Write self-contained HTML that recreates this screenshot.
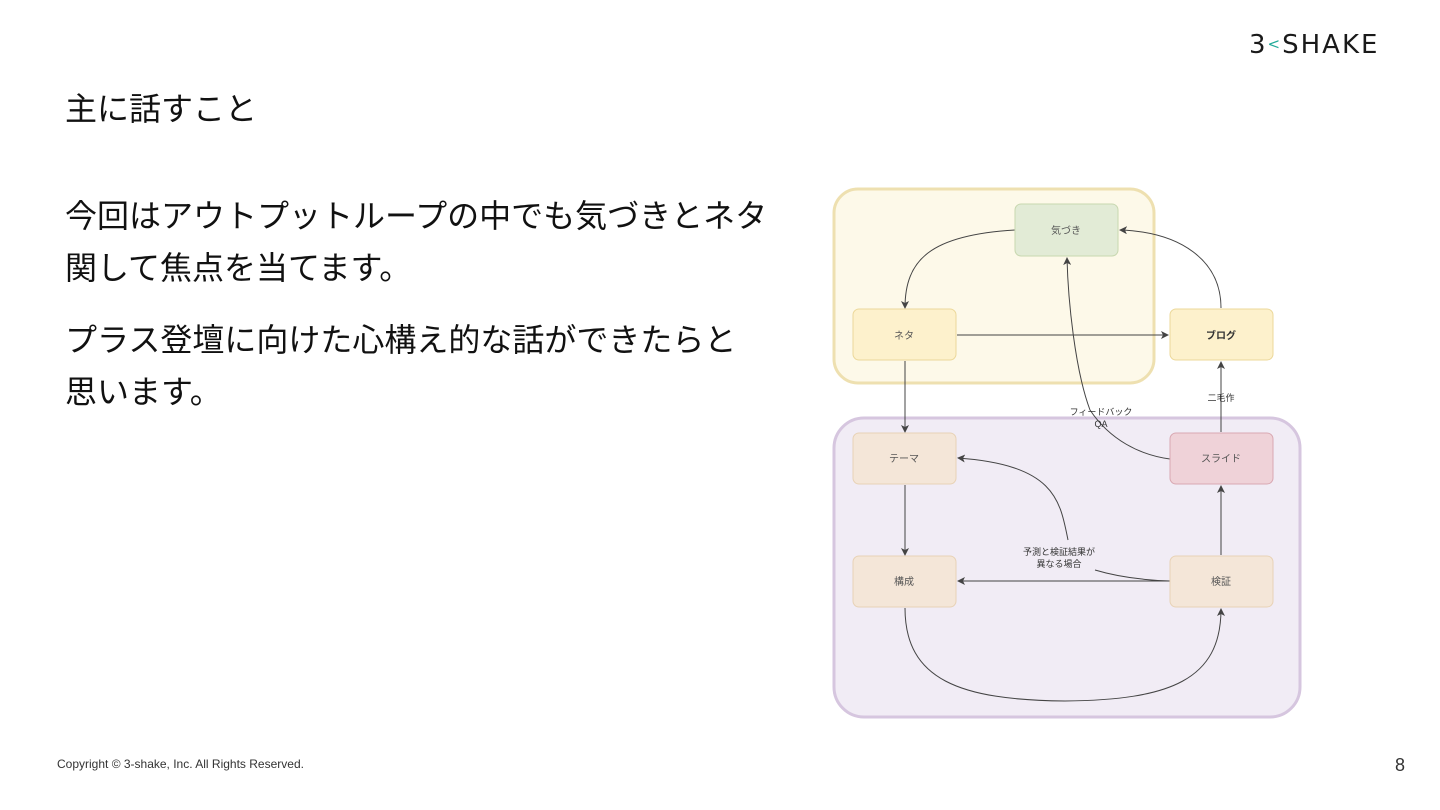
<!DOCTYPE html>
<html><head><meta charset="utf-8"><style>
body{margin:0;width:1440px;height:810px;background:#fff;position:relative;overflow:hidden;font-family:"Liberation Sans","Noto Sans CJK JP",sans-serif;color:#111}
.t{position:absolute;left:65px;white-space:nowrap}
</style></head><body>
<div class="t" style="top:84px;font-size:32px">主に話すこと</div>
<div class="t" style="top:190px;font-size:32px;line-height:52px">今回はアウトプットループの中でも気づきとネタ<br>関して焦点を当てます。</div>
<div class="t" style="top:314px;font-size:32px;line-height:52px">プラス登壇に向けた心構え的な話ができたらと<br>思います。</div>
<div style="position:absolute;left:57px;top:757px;font-size:12px;color:#333">Copyright © 3-shake, Inc. All Rights Reserved.</div>
<div style="position:absolute;left:1395px;top:755px;font-size:18px;color:#333">8</div>
<div style="position:absolute;left:1249px;top:30px;font-size:26px;letter-spacing:2px;color:#1a1a1a;font-family:'DejaVu Sans',sans-serif">3<span style="color:#2a9;font-size:15px;vertical-align:4px">&lt;</span>SHAKE</div>
<svg style="position:absolute;left:0;top:0" width="1440" height="810" font-family="Liberation Sans,Noto Sans CJK JP,sans-serif" font-size="10">
<defs><marker id="a" markerWidth="8" markerHeight="8" refX="7" refY="4" orient="auto" markerUnits="userSpaceOnUse"><path d="M0,0L8,4L0,8L2,4z" fill="#444"/></marker></defs>
<rect x="834" y="189" width="320" height="194" rx="24" fill="#fdf9e9" stroke="#eee0b0" stroke-width="3"/>
<rect x="834" y="418" width="466" height="299" rx="30" fill="#f1ecf5" stroke="#d6c6df" stroke-width="3"/>
<g stroke="#444" fill="none" stroke-width="1" marker-end="url(#a)">
<path d="M1015,230 C930,235 905,260 905,308"/>
<path d="M957,335 L1168,335"/>
<path d="M1221,308 C1221,260 1180,232 1120,230"/>
<path d="M905,361 L905,432"/>
<path d="M1170,459 C1140,455 1110,440 1090,410 C1075,370 1068,300 1067,258"/>
<path d="M1221,432 L1221,362"/>
<path d="M905,485 L905,555"/>
<path d="M1170,581 L958,581"/>
<path d="M1170,581 C1140,580 1115,576 1095,570 M1068,540 C1060,500 1055,465 958,458"/>
<path d="M1221,555 L1221,486"/>
<path d="M905,608 C905,680 960,700 1065,701 C1170,700 1221,680 1221,609"/>
</g>
<g stroke="#cbb" stroke-width="1">
<rect x="1015" y="204" width="103" height="52" rx="6" fill="#e2ebd6" stroke="#c8d8b0"/>
<rect x="853" y="309" width="103" height="51" rx="6" fill="#fdf1cc" stroke="#ecd89a"/>
<rect x="1170" y="309" width="103" height="51" rx="6" fill="#fdf1cc" stroke="#ecd89a"/>
<rect x="853" y="433" width="103" height="51" rx="6" fill="#f4e6d8" stroke="#e8d2b6"/>
<rect x="1170" y="433" width="103" height="51" rx="6" fill="#efd2d8" stroke="#d9a8b2"/>
<rect x="853" y="556" width="103" height="51" rx="6" fill="#f4e6d8" stroke="#e8d2b6"/>
<rect x="1170" y="556" width="103" height="51" rx="6" fill="#f4e6d8" stroke="#e8d2b6"/>
</g>
<g fill="#555" text-anchor="middle">
<text x="1066" y="234">気づき</text><text x="904" y="339">ネタ</text><text x="1221" y="339" font-weight="bold" fill="#333">ブログ</text>
<text x="904" y="462">テーマ</text><text x="1221" y="462">スライド</text><text x="904" y="585">構成</text><text x="1221" y="585">検証</text>
<g fill="#333" font-size="9"><text x="1221" y="401">二毛作</text><text x="1101" y="415">フィードバック</text><text x="1101" y="427">QA</text>
<text x="1059" y="555">予測と検証結果が</text><text x="1059" y="567">異なる場合</text></g>
</g>
</svg>
</body></html>
